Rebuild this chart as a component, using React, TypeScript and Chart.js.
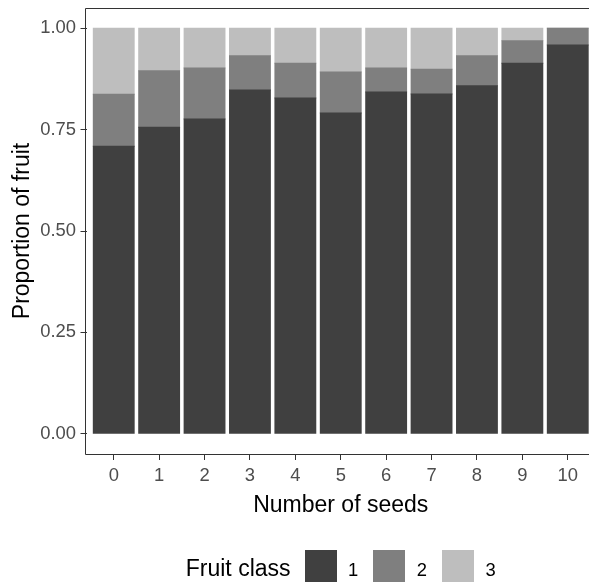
import React, { useEffect, useRef } from "react";
import { Chart, registerables } from "chart.js";

Chart.register(...registerables);

// ---- Data ----
const seeds = [0, 1, 2, 3, 4, 5, 6, 7, 8, 9, 10];
const class1 = [0.709, 0.756, 0.776, 0.848, 0.828, 0.791, 0.843, 0.838, 0.858, 0.914, 0.959];
const class2 = [0.128, 0.139, 0.126, 0.084, 0.086, 0.101, 0.059, 0.061, 0.074, 0.055, 0.041];
const class3 = [0.163, 0.105, 0.098, 0.068, 0.086, 0.108, 0.098, 0.101, 0.068, 0.031, 0.0];
const classLabels = ["1", "2", "3"];
const classColors = ["#404040", "#7F7F7F", "#BEBEBE"];
const yTicks = [0, 0.25, 0.5, 0.75, 1];
const xTitle = "Number of seeds";
const yTitle = "Proportion of fruit";
const legendTitle = "Fruit class";

const FONT = '"Liberation Sans", Arial, Helvetica, sans-serif';

export default function App() {
  const ref = useRef<HTMLCanvasElement>(null);

  useEffect(() => {
    if (!ref.current) return;
    const series = [class1, class2, class3];

    const borderPlugin = {
      id: "panelBorder",
      afterDatasetsDraw(chart: any) {
        const { ctx, chartArea: a } = chart;
        ctx.save();
        ctx.strokeStyle = "#333333";
        ctx.lineWidth = 1;
        const l = Math.floor(a.left) - 0.5;
        const t = Math.floor(a.top) + 0.5;
        const b = Math.floor(a.bottom) + 0.5;
        const r = Math.ceil(a.right) + 0.5;
        ctx.beginPath();
        ctx.moveTo(r, t);
        ctx.lineTo(l, t);
        ctx.lineTo(l, b);
        ctx.lineTo(r, b);
        ctx.lineTo(r, t);
        ctx.stroke();
        ctx.restore();
      },
    };

    const legendPlugin = {
      id: "ggLegend",
      afterDraw(chart: any) {
        const { ctx, chartArea: a } = chart;
        ctx.save();
        ctx.textAlign = "left";
        ctx.textBaseline = "alphabetic";
        ctx.font = `23px ${FONT}`;
        const titleW = ctx.measureText(legendTitle).width;
        ctx.font = `18.4px ${FONT}`;
        const labelWs = classLabels.map((l) => ctx.measureText(l).width);
        const key = 32;
        const gapTitle = 14;
        const gapKeyLabel = 11.5;
        const gapItems = 15;
        let total = titleW + gapTitle;
        labelWs.forEach((w, i) => {
          total += key + gapKeyLabel + w + (i < labelWs.length - 1 ? gapItems : 0);
        });
        const cx = (a.left + a.right) / 2;
        let x = cx - total / 2;
        const keyTop = 550;
        const baseline = 576;
        ctx.fillStyle = "#000000";
        ctx.font = `23px ${FONT}`;
        ctx.fillText(legendTitle, x, baseline);
        x += titleW + gapTitle;
        const metas = chart.data.datasets;
        ctx.font = `18.4px ${FONT}`;
        classLabels.forEach((lab, i) => {
          ctx.fillStyle = metas[i].backgroundColor as string;
          ctx.fillRect(Math.round(x), keyTop, key, key);
          x += key + gapKeyLabel;
          ctx.fillStyle = "#000000";
          ctx.fillText(lab, x, baseline);
          x += labelWs[i] + gapItems;
        });
        ctx.restore();
      },
    };

    const chart = new Chart(ref.current, {
      type: "bar",
      data: {
        datasets: series.map((s, i) => ({
          label: classLabels[i],
          data: seeds.map((x, j) => ({ x, y: s[j] })),
          backgroundColor: classColors[i],
          borderWidth: 0,
          inflateAmount: 0.5,
          categoryPercentage: 1,
          barPercentage: 0.9,
        })),
      },
      options: {
        animation: false,
        responsive: false,
        maintainAspectRatio: false,
        layout: { padding: { left: 0, right: 5, top: 8, bottom: 0 } },
        plugins: {
          legend: { display: false },
          tooltip: { enabled: false },
          title: { display: false },
        },
        scales: {
          x: {
            type: "linear",
            stacked: true,
            min: -0.6,
            max: 10.6,
            offset: false,
            afterBuildTicks: (s: any) => {
              s.ticks = seeds.map((v) => ({ value: v }));
            },
            afterFit: (s: any) => {
              s.height = 132;
              s.paddingLeft = 0;
              s.paddingRight = 0;
            },
            grid: {
              offset: false,
              drawOnChartArea: false,
              drawTicks: true,
              tickLength: 6,
              color: "#333333",
              tickColor: "#333333",
              tickWidth: 1,
            },
            border: { display: false },
            ticks: {
              color: "#4D4D4D",
              font: { family: FONT, size: 18.4 },
              padding: 5,
              maxRotation: 0,
              autoSkip: false,
              callback: (v: any) => String(v),
            },
            title: {
              display: true,
              text: xTitle,
              color: "#000000",
              font: { family: FONT, size: 23 },
              padding: { top: 0, bottom: 66.5 },
            },
          },
          y: {
            stacked: true,
            min: -0.05,
            max: 1.05,
            afterBuildTicks: (s: any) => {
              s.ticks = yTicks.map((v) => ({ value: v }));
            },
            afterFit: (s: any) => {
              s.width = 86.5;
              s.paddingTop = 0;
              s.paddingBottom = 0;
            },
            grid: {
              drawOnChartArea: false,
              drawTicks: true,
              tickLength: 6,
              color: "#333333",
              tickColor: "#333333",
              tickWidth: 1,
            },
            border: { display: false },
            ticks: {
              color: "#4D4D4D",
              font: { family: FONT, size: 18.4 },
              padding: 4.5,
              callback: (v: any) => Number(v).toFixed(2),
            },
            title: {
              display: true,
              text: yTitle,
              color: "#000000",
              font: { family: FONT, size: 23 },
              padding: { top: 8.5, bottom: 0 },
            },
          },
        },
      },
      plugins: [borderPlugin, legendPlugin],
    } as any);

    return () => chart.destroy();
  }, []);

  return (
    <div
      style={{
        position: "fixed",
        left: 0,
        top: 0,
        width: 589,
        height: 586,
        overflow: "hidden",
        background: "#ffffff",
      }}
    >
      <canvas
        ref={ref}
        width={600}
        height={586}
        style={{ display: "block", width: 600, height: 586 }}
      />
    </div>
  );
}
